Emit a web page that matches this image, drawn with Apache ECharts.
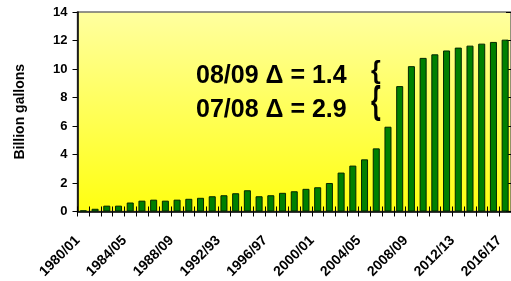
<!DOCTYPE html>
<html>
<head>
<meta charset="utf-8">
<script src="https://cdn.jsdelivr.net/npm/echarts@6/dist/echarts.min.js"></script>
<style>html,body{margin:0;padding:0;background:#fff}#c{width:511px;height:281px}</style>
</head>
<body>
<div id="c"></div>
<script>
var categories = ['1980/01','1981/02','1982/83','1983/84','1984/05','1985/86','1986/87','1987/88','1988/09','1989/90',
'1990/91','1991/92','1992/93','1993/94','1994/95','1995/96','1996/97','1997/98','1998/99','1999/00',
'2000/01','2001/02','2002/03','2003/04','2004/05','2005/06','2006/07','2007/08','2008/09','2009/10',
'2010/11','2011/12','2012/13','2013/14','2014/15','2015/16','2016/17'];
var values = [0.08, 0.19, 0.41, 0.41, 0.63, 0.76, 0.83, 0.76, 0.83, 0.89,
0.96, 1.07, 1.14, 1.28, 1.49, 1.07, 1.14, 1.31, 1.42, 1.59,
1.70, 2.0, 2.73, 3.22, 3.66, 4.43, 5.95, 8.8, 10.2, 10.78,
11.03, 11.3, 11.5, 11.64, 11.78, 11.9, 12.06];
var yTicks = {min: 0, max: 14, interval: 2};
var axisName = 'Billion gallons';
var notes = ['08/09 \u0394 = 1.4', '07/08 \u0394 = 2.9'];

var chart = echarts.init(document.getElementById('c'), null, {renderer: 'canvas'});
var font = 'Liberation Sans, Arial, sans-serif';
chart.setOption({
  animation: false,
  grid: {
    left: 77.5, right: 0, top: 12, bottom: 68.5,
    show: true,
    borderColor: '#707070', borderWidth: 1.5,
    backgroundColor: new echarts.graphic.LinearGradient(0, 0, 0, 1, [
      {offset: 0, color: '#ffffa0'}, {offset: 1, color: '#ffff10'}
    ])
  },
  xAxis: [{
    type: 'category', data: categories, position: 'bottom',
    axisLine: {lineStyle: {color: '#000', width: 1.5}},
    axisTick: {show: true, interval: 0, length: 5, lineStyle: {color: '#000'}},
    axisLabel: {interval: 3, rotate: 45, margin: 21, padding: [0, 8, 0, 0], color: '#000', fontWeight: 'bold', fontSize: 14, fontFamily: font}
  }, {
    type: 'category', data: categories, position: 'bottom',
    axisLine: {show: false},
    axisTick: {show: true, inside: true, interval: 0, length: 5, lineStyle: {color: '#000'}},
    axisLabel: {show: false}
  }],
  yAxis: [{
    type: 'value', min: yTicks.min, max: yTicks.max, interval: yTicks.interval,
    name: axisName, nameLocation: 'middle', nameGap: 50,
    nameTextStyle: {color: '#000', fontWeight: 'bold', fontSize: 14, fontFamily: font},
    axisLine: {show: true, lineStyle: {color: '#000', width: 1.5}},
    axisTick: {show: true, length: 5, lineStyle: {color: '#000'}},
    splitLine: {show: false},
    axisLabel: {margin: 10, color: '#000', fontWeight: 'bold', fontSize: 13, fontFamily: font}
  }, {
    type: 'value', min: yTicks.min, max: yTicks.max, interval: yTicks.interval,
    axisLine: {show: false},
    axisTick: {show: true, inside: true, length: 5, lineStyle: {color: '#000'}},
    splitLine: {show: false},
    axisLabel: {show: false}
  }],
  series: [{
    type: 'bar', data: values, barWidth: '60%',
    itemStyle: {color: '#008000', borderColor: '#002800', borderWidth: 1}
  }],
  graphic: [
    {type: 'text', left: 196, top: 64, style: {text: notes[0], fill: '#000', font: 'bold 25px ' + font}},
    {type: 'text', left: 196, top: 98, style: {text: notes[1], fill: '#000', font: 'bold 25px ' + font}},
    {type: 'text', x: 371, y: 60, scaleY: 1.0, style: {text: '{', fill: '#000', font: 'bold 25px ' + font}},
    {type: 'text', x: 371, y: 83, scaleX: 1.0, scaleY: 1.55, style: {text: '{', fill: '#000', font: 'bold 25px ' + font}}
  ]
});
</script>
</body>
</html>
